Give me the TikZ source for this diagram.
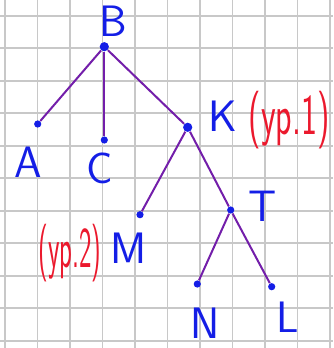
\documentclass[tikz,border=0pt]{standalone}
\usepackage{graphicx}
\definecolor{inkblue}{RGB}{20,30,230}
\definecolor{inkred}{RGB}{235,25,45}
\definecolor{inkviolet}{RGB}{115,30,170}
\definecolor{gridgray}{RGB}{200,200,200}
\begin{document}
\begin{tikzpicture}[x=0.5pt,y=-0.5pt,
  dot/.style={circle,fill=inkblue,inner sep=0pt,minimum size=3.6pt},
  bigdot/.style={dot,minimum size=4.6pt},
  ltr/.style={inkblue,font=\fontsize{22}{22}\sffamily},
  note/.style={inkred,font=\fontsize{17}{17}\sffamily},
  edge/.style={inkviolet,line width=1pt}]
  \useasboundingbox (0,0) rectangle (333,348);
  % squared paper.
  \foreach \k in {0,...,10}
    \draw[gridgray,line width=0.8pt] (5+32.5*\k,0) -- (5+32.5*\k,348);
  \foreach \k in {0,...,10}
    \draw[gridgray,line width=0.8pt] (0,15.7+32.5*\k) -- (333,15.7+32.5*\k);
  % vertices.
  \node[bigdot] (B) at (104.3,46.7) {};
  \node[dot] (A) at (37.7,124) {};
  \node[dot] (C) at (104.3,140) {};
  \node[bigdot] (K) at (187.7,127.3) {};
  \node[dot] (M) at (140,214.7) {};
  \node[dot] (T) at (230.7,210) {};
  \node[dot] (N) at (197.3,284) {};
  \node[dot] (L) at (271.7,286.7) {};
  % edges.
  \draw[edge] (B) -- (A);
  \draw[edge] (B) -- (C);
  \draw[edge] (B) -- (K);
  \draw[edge] (K) -- (M);
  \draw[edge] (K) -- (T);
  \draw[edge] (T) -- (N);
  \draw[edge] (T) -- (L);
  % letters.
  \node[ltr] (lB) at (113,21) {B};
  \node[ltr] (lA) at (28,162) {A};
  \node[ltr] (lC) at (100,168) {C};
  \node[ltr] (lK) at (223,116) {K};
  \node[ltr] (lM) at (129,248) {M};
  \node[ltr] (lT) at (263,206) {T};
  \node[ltr] (lN) at (205,323) {N};
  \node[ltr] (lL) at (288,317) {L};
  % remarks.
  \node[note] (r1) at (289,120) {\scalebox{1}[1.7]{(yp.1)}};
  \node[note] (r2) at (70,253) {\scalebox{0.78}[1.7]{(yp.2)}};
\end{tikzpicture}
\end{document}
